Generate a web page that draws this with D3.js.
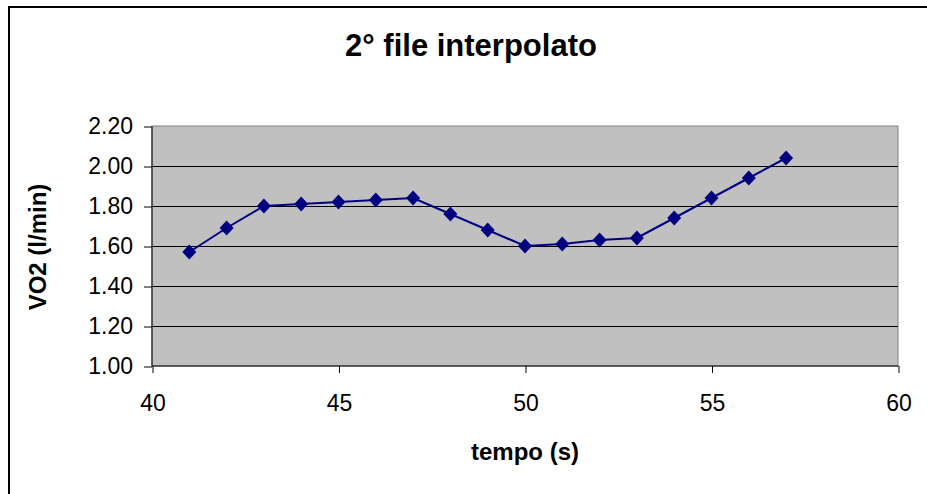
<!DOCTYPE html>
<html>
<head>
<meta charset="utf-8">
<script src="https://cdn.jsdelivr.net/npm/d3@7"></script>
<style>
  body { margin: 0; background: #fff; }
  text { font-family: "Liberation Sans", Arial, sans-serif; }
</style>
</head>
<body>
<svg id="chart" width="927" height="494"></svg>
<script>
var WIDTH = 927;
var HEIGHT = 494;
var PLOT = { left: 152, right: 898, top: 126, bottom: 366 };

var tempo = [41, 42, 43, 44, 45, 46, 47, 48, 49, 50, 51, 52, 53, 54, 55, 56, 57];
var vo2 = [1.57, 1.69, 1.80, 1.81, 1.82, 1.83, 1.84, 1.76, 1.68, 1.60, 1.61, 1.63, 1.64, 1.74, 1.84, 1.94, 2.04];
var xTicks = [40, 45, 50, 55, 60];
var yTicks = [1.00, 1.20, 1.40, 1.60, 1.80, 2.00, 2.20];

var svg = d3.select('#chart');

// outer chart frame (runs off the right and bottom edge)
svg.append('rect')
  .attr('x', 9).attr('y', 7)
  .attr('width', 1000).attr('height', 600)
  .attr('fill', 'none')
  .attr('stroke', '#000')
  .attr('stroke-width', 2);

var x = d3.scaleLinear().domain([40, 60]).range([PLOT.left, PLOT.right]);
var y = d3.scaleLinear().domain([1.0, 2.2]).range([PLOT.bottom, PLOT.top]);

// plot area
svg.append('rect')
  .attr('x', PLOT.left).attr('y', PLOT.top)
  .attr('width', PLOT.right - PLOT.left)
  .attr('height', PLOT.bottom - PLOT.top)
  .attr('fill', '#c0c0c0')
  .attr('stroke', '#808080')
  .attr('stroke-width', 1);

// gridlines
svg.append('g')
  .selectAll('line')
  .data(yTicks.slice(1, -1))
  .enter().append('line')
  .attr('x1', PLOT.left).attr('x2', PLOT.right)
  .attr('y1', d => Math.round(y(d)) + 0.5)
  .attr('y2', d => Math.round(y(d)) + 0.5)
  .attr('stroke', '#000');

var xAxis = d3.axisBottom(x)
  .tickValues(xTicks)
  .tickFormat(d3.format('d'))
  .tickSize(7)
  .tickPadding(22);

var yAxis = d3.axisLeft(y)
  .tickValues(yTicks)
  .tickFormat(d3.format('.2f'))
  .tickSize(8)
  .tickPadding(11);

var xAxisGroup = svg.append('g')
  .attr('transform', 'translate(0.5, ' + PLOT.bottom + ')')
  .call(xAxis);

var yAxisGroup = svg.append('g')
  .attr('transform', 'translate(' + PLOT.left + ', 0.5)')
  .call(yAxis);

[xAxisGroup, yAxisGroup].forEach(g => {
  g.select('.domain').attr('stroke', '#000').attr('stroke-width', 1);
  g.selectAll('.tick line').attr('stroke', '#000');
  g.selectAll('.tick text')
    .attr('fill', '#000')
    .style('font-size', '23px')
    .style('font-family', '"Liberation Sans", Arial, sans-serif');
});
xAxisGroup.select('.domain').attr('d', 'M' + PLOT.left + ',0H' + PLOT.right);
yAxisGroup.select('.domain').attr('d', 'M0,' + PLOT.bottom + 'V' + PLOT.top);

// series
var line = d3.line()
  .x((d, i) => x(tempo[i]))
  .y(d => y(d));

svg.append('path')
  .attr('d', line(vo2))
  .attr('fill', 'none')
  .attr('stroke', '#000080')
  .attr('stroke-width', 2);

svg.append('g')
  .selectAll('path')
  .data(vo2)
  .enter().append('path')
  .attr('d', d3.symbol().type(d3.symbolDiamond2).size(125))
  .attr('transform', (d, i) => 'translate(' + x(tempo[i]) + ',' + y(d) + ') scale(1,1.08)')
  .attr('fill', '#000080');

// titles
svg.append('text')
  .attr('x', 471).attr('y', 56)
  .attr('text-anchor', 'middle')
  .style('font-size', '31px')
  .style('font-weight', 'bold')
  .text('2° file interpolato');

svg.append('text')
  .attr('x', 525).attr('y', 460)
  .attr('text-anchor', 'middle')
  .style('font-size', '24px')
  .style('font-weight', 'bold')
  .text('tempo (s)');

svg.append('text')
  .attr('transform', 'translate(46, 247) rotate(-90)')
  .attr('text-anchor', 'middle')
  .style('font-size', '24px')
  .style('font-weight', 'bold')
  .text('VO2 (l/min)');
</script>
</body>
</html>
